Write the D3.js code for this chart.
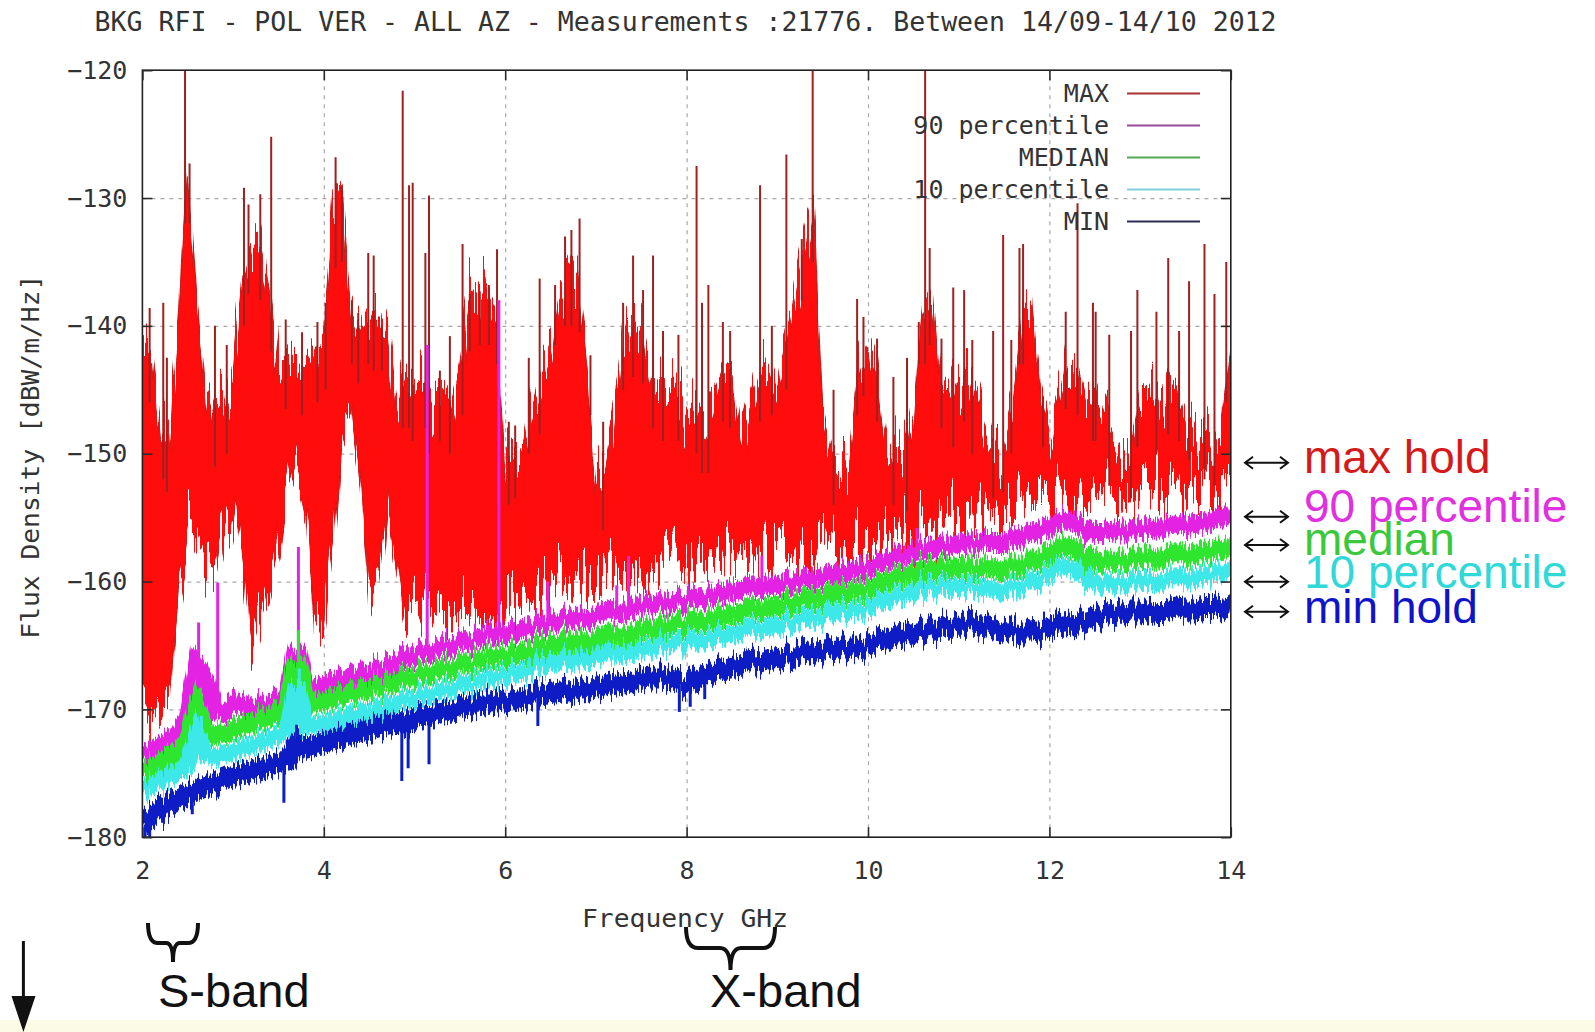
<!DOCTYPE html>
<html>
<head>
<meta charset="utf-8">
<script src="https://cdn.jsdelivr.net/npm/d3@7"></script>
<style>
body { margin: 0; background: #fff; }
svg { display: block; }
</style>
</head>
<body>
<div id="chart"></div>
<script>

// frequency grid, 0.1 GHz steps from 2 to 14 GHz
var freqs = d3.range(121).map(function(i){ return 2 + i / 10; });

var xTicks = [2, 4, 6, 8, 10, 12, 14];
var yTicks = [-180, -170, -160, -150, -140, -130, -120];

// max hold: upper edge of the dense red field, and its lower edge
var maxTop = [
 -141.5,-142.0,-148.0,-149.0,-140.0,-128.0,-138.0,-145.0,-147.0,-146.0,
 -143.5,-136.0,-133.5,-134.0,-138.0,-143.0,-142.5,-143.0,-143.0,-142.0,
 -141.0,-131.5,-131.0,-139.0,-140.5,-139.0,-139.5,-140.5,-146.0,-144.0,
 -145.0,-144.0,-146.0,-145.0,-146.0,-143.0,-138.0,-137.5,-137.5,-139.0,
 -150.0,-149.5,-149.0,-146.0,-144.5,-142.0,-137.5,-136.0,-136.5,-143.0,
 -151.0,-152.0,-148.0,-141.0,-140.0,-140.5,-144.0,-145.0,-146.0,-145.0,
 -147.0,-146.0,-147.5,-146.0,-143.5,-144.0,-148.5,-146.0,-143.5,-143.0,
 -145.0,-141.0,-137.5,-134.0,-131.0,-147.0,-150.0,-150.5,-150.0,-143.0,
 -141.5,-143.5,-149.5,-150.0,-150.5,-147.0,-139.0,-137.5,-144.0,-145.5,
 -144.0,-143.5,-146.0,-148.5,-149.5,-149.0,-146.0,-139.0,-138.0,-145.5,
 -148.5,-146.0,-142.5,-143.0,-146.0,-145.0,-147.0,-148.5,-150.0,-149.5,
 -145.5,-145.0,-146.0,-144.5,-145.0,-146.5,-147.5,-148.0,-148.5,-147.5,
 -142.0];
var maxBottom = [
 -169.0,-170.5,-170.0,-169.0,-160.0,-156.0,-157.0,-158.5,-159.5,-156.0,
 -154.0,-158.0,-165.0,-163.0,-160.5,-157.0,-153.3,-151.5,-155.0,-164.0,
 -163.3,-157.0,-148.0,-146.5,-152.0,-161.5,-160.0,-153.5,-158.0,-163.0,
 -162.5,-161.0,-162.0,-162.0,-162.3,-162.3,-162.5,-162.8,-163.0,-163.0,
 -162.0,-161.5,-161.2,-161.0,-161.0,-160.8,-160.5,-160.3,-160.2,-160.0,
 -160.0,-159.8,-159.6,-159.4,-159.2,-159.0,-159.0,-158.8,-158.8,-158.8,
 -158.7,-158.7,-158.6,-158.5,-158.4,-158.3,-158.2,-158.0,-158.0,-157.9,
 -157.8,-157.7,-157.6,-157.5,-157.4,-157.5,-157.4,-157.3,-157.2,-157.1,
 -157.0,-156.9,-156.8,-156.7,-156.6,-156.4,-156.2,-156.0,-155.7,-155.4,
 -155.2,-155.0,-154.8,-154.6,-154.5,-154.4,-154.3,-154.2,-154.0,-153.9,
 -153.8,-153.7,-153.6,-153.5,-153.4,-153.3,-153.2,-153.1,-153.0,-152.9,
 -152.8,-152.7,-152.6,-152.5,-152.4,-152.3,-152.2,-152.1,-152.0,-151.9,
 -151.6];
// tall narrow max hold lines [GHz, dBW/m/Hz]
var maxSpikes = [
 [2.08,-138.6],[2.23,-138.2],[2.27,-142.5],[2.47,-120],[2.52,-127.3],[2.80,-140.0],[2.93,-141.5],
 [3.12,-129.2],[3.17,-130.5],[3.30,-129.7],[3.42,-125.2],[3.58,-139.5],[3.76,-140.5],[3.93,-139.7],
 [4.02,-138.2],[4.13,-126.8],[4.20,-129.0],[4.31,-138.0],[4.38,-139.0],[4.49,-134.3],[4.55,-134.5],
 [4.64,-140.0],[4.87,-121.6],[4.94,-129.0],[4.98,-128.8],[5.12,-134.3],[5.16,-129.8],[5.28,-143.5],
 [5.39,-140.8],[5.53,-133.6],[5.61,-137.5],[5.72,-137.3],[5.82,-136.8],[5.91,-134.0],[6.04,-147.5],
 [6.11,-147.8],[6.26,-142.5],[6.38,-136.3],[6.55,-136.8],[6.66,-133.0],[6.73,-132.5],[6.82,-131.6],
 [6.94,-142.3],[7.08,-147.5],[7.30,-138.2],[7.41,-134.5],[7.52,-137.2],[7.63,-134.5],[7.74,-140.4],
 [7.91,-140.7],[8.11,-127.5],[8.17,-138.2],[8.24,-136.8],[8.40,-139.7],[8.48,-140.4],[8.81,-129.0],
 [8.94,-140.0],[9.10,-126.6],[9.27,-133.2],[9.39,-120],[9.62,-145.0],[9.88,-137.9],[9.95,-139.3],
 [10.10,-141.0],[10.28,-144.0],[10.43,-142.5],[10.56,-139.7],[10.63,-120],[10.68,-133.9],[10.81,-141.0],
 [10.94,-137.0],[11.06,-137.2],[11.15,-141.1],[11.38,-140.4],[11.49,-132.9],[11.58,-141.1],[11.67,-133.9],
 [11.71,-133.6],[11.93,-145.5],[12.18,-138.9],[12.31,-130.4],[12.48,-138.2],[12.51,-138.9],[12.66,-140.7],
 [12.90,-140.4],[12.97,-137.2],[13.18,-138.9],[13.31,-134.7],[13.43,-140.4],[13.54,-136.5],[13.71,-133.6],
 [13.82,-137.5],[13.95,-135.0]];

var p90 = [
 -173.6,-173.2,-172.8,-172.4,-171.8,-170.8,-166.5,-167.5,-170.0,-170.2,
 -169.5,-169.6,-170.0,-169.8,-169.6,-169.2,-168.6,-165.0,-168.6,-168.5,
 -168.1,-167.9,-167.7,-167.5,-167.3,-167.1,-166.9,-166.6,-166.3,-166.0,
 -165.7,-165.5,-165.3,-165.1,-164.9,-164.8,-164.6,-164.5,-164.3,-164.2,
 -164.0,-163.9,-163.7,-163.6,-163.5,-163.3,-163.2,-163.0,-162.9,-162.8,
 -162.6,-162.5,-162.3,-162.2,-162.0,-161.9,-161.8,-161.7,-161.6,-161.5,
 -161.4,-161.2,-161.1,-161.0,-160.9,-160.7,-160.6,-160.5,-160.4,-160.3,
 -160.2,-160.1,-160.0,-159.9,-159.8,-159.6,-159.5,-159.3,-159.1,-158.9,
 -158.8,-158.6,-158.4,-158.2,-158.0,-157.8,-157.6,-157.4,-157.2,-157.1,
 -157.0,-157.0,-157.0,-156.9,-156.9,-156.9,-156.6,-156.4,-156.2,-156.0,
 -155.8,-155.4,-155.2,-155.5,-155.9,-156.2,-156.2,-156.1,-156.0,-156.0,
 -155.9,-155.8,-155.8,-155.7,-155.6,-155.6,-155.5,-155.4,-155.2,-155.0,
 -154.7];
var p90Spikes = [[2.62,-163.2],[2.83,-160.1],[3.72,-157.3],[5.14,-141.5],[5.93,-138.0],
 [6.47,-160.0],[7.23,-160.3],[7.36,-158.0],[8.83,-158.0],[10.54,-155.8]];

var median = [
 -175.0,-174.6,-174.2,-173.7,-173.2,-172.6,-170.0,-171.6,-172.0,-171.9,
 -171.6,-171.3,-171.1,-170.9,-170.6,-170.2,-169.6,-166.0,-169.5,-169.5,
 -169.4,-169.2,-169.0,-168.8,-168.6,-168.4,-168.2,-168.0,-167.8,-167.6,
 -167.4,-167.2,-167.0,-166.8,-166.7,-166.5,-166.4,-166.2,-166.1,-165.9,
 -165.8,-165.6,-165.5,-165.4,-165.2,-165.1,-165.0,-164.8,-164.7,-164.6,
 -164.5,-164.3,-164.2,-164.1,-164.0,-163.8,-163.7,-163.6,-163.4,-163.3,
 -163.2,-163.0,-162.9,-162.8,-162.6,-162.5,-162.4,-162.2,-162.1,-162.0,
 -161.8,-161.7,-161.6,-161.5,-161.3,-161.2,-161.0,-160.8,-160.7,-160.5,
 -160.4,-160.2,-160.0,-159.8,-159.6,-159.4,-159.2,-159.0,-158.9,-158.8,
 -158.8,-158.9,-159.0,-159.0,-159.0,-158.9,-158.8,-158.6,-158.4,-158.2,
 -157.9,-157.5,-157.3,-157.5,-158.0,-158.4,-158.6,-158.5,-158.4,-158.3,
 -158.2,-158.1,-158.1,-158.0,-157.9,-157.9,-157.8,-157.7,-157.6,-157.5,
 -157.4];
var medianSpikes = [[2.64,-168.3],[3.72,-163.8]];

var p10 = [
 -176.4,-176.0,-175.6,-175.2,-174.8,-174.3,-172.0,-173.5,-173.7,-173.5,
 -173.3,-173.0,-172.8,-172.6,-172.3,-172.0,-171.5,-168.0,-171.3,-171.2,
 -171.1,-170.9,-170.7,-170.5,-170.3,-170.1,-169.9,-169.7,-169.5,-169.3,
 -169.1,-168.9,-168.7,-168.5,-168.3,-168.1,-168.0,-167.8,-167.6,-167.5,
 -167.3,-167.1,-167.0,-166.8,-166.7,-166.5,-166.4,-166.2,-166.1,-166.0,
 -165.9,-165.7,-165.6,-165.5,-165.4,-165.3,-165.2,-165.0,-164.9,-164.8,
 -164.7,-164.5,-164.4,-164.3,-164.1,-164.0,-163.9,-163.7,-163.6,-163.5,
 -163.3,-163.2,-163.1,-163.0,-162.8,-162.7,-162.5,-162.3,-162.2,-162.0,
 -161.9,-161.7,-161.5,-161.3,-161.1,-160.9,-160.7,-160.5,-160.4,-160.3,
 -160.3,-160.4,-160.5,-160.6,-160.6,-160.5,-160.4,-160.2,-160.0,-159.8,
 -159.5,-159.1,-158.9,-159.1,-159.6,-160.1,-160.3,-160.3,-160.2,-160.1,
 -160.0,-160.0,-159.9,-159.8,-159.8,-159.7,-159.6,-159.5,-159.4,-159.3,
 -159.2];
var p10Spikes = [[2.65,-170.5],[3.73,-166.8]];

var minHold = [
 -179.0,-178.5,-177.9,-177.4,-177.0,-176.6,-176.3,-176.0,-175.8,-175.5,
 -175.2,-175.0,-174.8,-174.6,-174.4,-174.2,-174.0,-172.8,-173.0,-172.8,
 -172.6,-172.4,-172.2,-172.0,-171.8,-171.6,-171.4,-171.2,-171.0,-171.2,
 -170.7,-170.5,-170.4,-170.2,-170.1,-169.9,-169.8,-169.6,-169.5,-169.4,
 -169.3,-169.2,-169.1,-169.0,-168.9,-168.8,-168.7,-168.6,-168.5,-168.4,
 -168.3,-168.2,-168.0,-167.9,-167.8,-167.6,-167.5,-167.5,-167.6,-167.9,
 -168.0,-167.6,-167.2,-167.0,-166.8,-166.6,-166.5,-166.3,-166.2,-166.0,
 -165.9,-165.8,-165.7,-165.6,-165.5,-165.4,-165.3,-165.2,-165.1,-165.0,
 -164.9,-164.7,-164.6,-164.4,-164.3,-164.1,-164.0,-163.8,-163.6,-163.4,
 -163.3,-163.3,-163.4,-163.5,-163.6,-163.7,-163.8,-163.9,-163.9,-163.8,
 -163.7,-163.5,-163.4,-163.3,-163.0,-162.8,-162.7,-162.6,-162.6,-162.5,
 -162.5,-162.4,-162.3,-162.3,-162.2,-162.1,-162.1,-162.0,-162.0,-162.1,
 -162.2];
var minSpikes = [[2.03,-180],[2.08,-180],[2.55,-178.2],[3.56,-177.3],[3.70,-171.2],[4.86,-175.6],
 [4.93,-174.6],[5.16,-174.3],[6.36,-171.3],[7.92,-170.2],[8.04,-169.8],[8.20,-169.2]];

var legendLabels = ["MAX", "90 percentile", "MEDIAN", "10 percentile", "MIN"];
var noteLabels = ["max hold", "90 percentile", "median", "10 percentile", "min hold"];


var width = 1595, height = 1032;
var pL = 142.4, pR = 1230.8, pT = 70.2, pB = 837.2;
var mono = "'DejaVu Sans Mono', monospace";
var sans = "'Liberation Sans', Arial, sans-serif";

var x = d3.scaleLinear().domain([2, 14]).range([pL, pR]);
var y = d3.scaleLinear().domain([-180, -120]).range([pB, pT]);

var svg = d3.select("#chart")
	.append("svg")
	.attr("width", width)
	.attr("height", height);

var defs = svg.append("defs");
defs.append("clipPath").attr("id", "plotclip")
	.append("rect")
	.attr("x", pL).attr("y", pT)
	.attr("width", pR - pL).attr("height", pB - pT);

// vertical jitter so the thick traces get the ragged edges of a dense sweep
function jagFilter(id, scale, seed, freq) {
	var f = defs.append("filter").attr("id", id)
		.attr("filterUnits", "userSpaceOnUse")
		.attr("x", pL - 20).attr("y", pT - 60)
		.attr("width", pR - pL + 40).attr("height", pB - pT + 120);
	f.append("feTurbulence").attr("type", "fractalNoise")
		.attr("baseFrequency", freq).attr("numOctaves", 2)
		.attr("seed", seed).attr("result", "noise");
	var ct = f.append("feComponentTransfer").attr("in", "noise").attr("result", "map");
	ct.append("feFuncR").attr("type", "table").attr("tableValues", "0.5 0.5");
	ct.append("feFuncA").attr("type", "table").attr("tableValues", "1 1");
	f.append("feDisplacementMap").attr("in", "SourceGraphic").attr("in2", "map")
		.attr("scale", scale).attr("xChannelSelector", "R").attr("yChannelSelector", "G");
}
jagFilter("jagMax", 140, 4, "0.35 0.003");
jagFilter("jagBand", 30, 9, "0.45 0.004");

svg.append("rect").attr("x", 0).attr("y", 1020)
	.attr("width", width).attr("height", 12).attr("fill", "#fcfce6");

// grid
var gridX = svg.append("g")
	.attr("transform", "translate(0," + pB + ")")
	.call(d3.axisBottom(x).tickValues(xTicks.slice(1, -1)).tickSize(-(pB - pT)).tickFormat(""));
var gridY = svg.append("g")
	.attr("transform", "translate(" + pL + ",0)")
	.call(d3.axisLeft(y).tickValues(yTicks.slice(1, -1)).tickSize(-(pR - pL)).tickFormat(""));
[gridX, gridY].forEach(function(g) {
	g.select(".domain").remove();
	g.selectAll("line").attr("stroke", "#a8a8a8").attr("stroke-width", 1.2).attr("stroke-dasharray", "4,5");
});

var plot = svg.append("g").attr("clip-path", "url(#plotclip)");

var idx = function(f) { return Math.round((f - 2) * 10); };

// MAX
var area = d3.area()
	.x(function(d, i) { return x(freqs[i]); })
	.y0(function(d, i) { return y(maxBottom[i]); })
	.y1(function(d, i) { return y(maxTop[i]); });

plot.append("g").attr("filter", "url(#jagMax)")
	.append("path")
	.datum(maxTop)
	.attr("d", area)
	.attr("fill", "#ff0a0a")
	.attr("stroke", "#c81414")
	.attr("stroke-width", 1);

plot.selectAll(".maxspike")
	.data(maxSpikes)
	.enter().append("line")
	.attr("class", "maxspike")
	.attr("x1", function(d) { return x(d[0]); })
	.attr("x2", function(d) { return x(d[0]); })
	.attr("y1", function(d) { return y(maxTop[idx(d[0])] - 4); })
	.attr("y2", function(d) { return y(d[1]); })
	.attr("stroke", "#9e2020")
	.attr("stroke-width", 2);

var line = d3.line()
	.x(function(d, i) { return x(freqs[i]); })
	.y(function(d) { return y(d); });

var bands = [
	{ values: p90, spikes: p90Spikes, color: "#e424e4", w: 18 },
	{ values: median, spikes: medianSpikes, color: "#2ee62e", w: 19 },
	{ values: p10, spikes: p10Spikes, color: "#3ce8e8", w: 17 },
	{ values: minHold, spikes: minSpikes, color: "#0c1ec4", w: 20 }
];

bands.forEach(function(b) {
	plot.append("g").attr("filter", "url(#jagBand)")
		.append("path")
		.datum(b.values)
		.attr("d", line)
		.attr("fill", "none")
		.attr("stroke", b.color)
		.attr("stroke-width", b.w);
	plot.selectAll(null)
		.data(b.spikes)
		.enter().append("line")
		.attr("x1", function(d) { return x(d[0]); })
		.attr("x2", function(d) { return x(d[0]); })
		.attr("y1", function(d) { return y(b.values[idx(d[0])]); })
		.attr("y2", function(d) { return y(d[1]); })
		.attr("stroke", b.color)
		.attr("stroke-width", 3);
});

// border and inward ticks on all four sides
svg.append("rect")
	.attr("x", pL).attr("y", pT)
	.attr("width", pR - pL).attr("height", pB - pT)
	.attr("fill", "none").attr("stroke", "#222").attr("stroke-width", 1.6);

var xAxis = svg.append("g")
	.attr("transform", "translate(0," + pB + ")")
	.call(d3.axisBottom(x).tickValues(xTicks).tickSizeInner(-10).tickSizeOuter(0).tickPadding(24));
var yAxis = svg.append("g")
	.attr("transform", "translate(" + pL + ",0)")
	.call(d3.axisLeft(y).tickValues(yTicks).tickSizeInner(-10).tickSizeOuter(0).tickPadding(15));
var xTop = svg.append("g")
	.attr("transform", "translate(0," + pT + ")")
	.call(d3.axisTop(x).tickValues(xTicks).tickSizeInner(-10).tickSizeOuter(0).tickFormat(""));
var yRight = svg.append("g")
	.attr("transform", "translate(" + pR + ",0)")
	.call(d3.axisRight(y).tickValues(yTicks).tickSizeInner(-10).tickSizeOuter(0).tickFormat(""));

[xAxis, yAxis, xTop, yRight].forEach(function(g) {
	g.select(".domain").remove();
	g.attr("font-family", mono).attr("font-size", 25).attr("color", "#2a2a2a");
	g.selectAll("line").attr("stroke-width", 1.6);
	g.selectAll("text").attr("fill", "#333");
});

// titles
svg.append("text")
	.attr("x", 94.6).attr("y", 30.5)
	.attr("textLength", 1182).attr("lengthAdjust", "spacingAndGlyphs")
	.attr("font-family", mono).attr("font-size", 26).attr("fill", "#333")
	.text("BKG RFI - POL VER - ALL AZ - Measurements :21776. Between 14/09-14/10 2012");

svg.append("text")
	.attr("x", 685).attr("y", 927)
	.attr("text-anchor", "middle")
	.attr("textLength", 206).attr("lengthAdjust", "spacingAndGlyphs")
	.attr("font-family", mono).attr("font-size", 25).attr("fill", "#333")
	.text("Frequency GHz");

svg.append("text")
	.attr("transform", "translate(39,456.7) rotate(-90)")
	.attr("text-anchor", "middle")
	.attr("textLength", 364).attr("lengthAdjust", "spacingAndGlyphs")
	.attr("font-family", mono).attr("font-size", 25).attr("fill", "#333")
	.text("Flux Density [dBW/m/Hz]");

// legend
var legendColors = ["#a83434", "#9a4c9a", "#52a852", "#80d0dc", "#2c2c52"];
var legend = svg.append("g");
legendLabels.forEach(function(lab, i) {
	var ly = 93.6 + i * 32;
	legend.append("text")
		.attr("x", 1109).attr("y", ly)
		.attr("text-anchor", "end").attr("dy", "0.35em")
		.attr("font-family", mono).attr("font-size", 25).attr("fill", "#333")
		.text(lab);
	legend.append("line")
		.attr("x1", 1127).attr("x2", 1200)
		.attr("y1", ly).attr("y2", ly)
		.attr("stroke", legendColors[i]).attr("stroke-width", 2);
});

// right-hand notes
var noteColors = ["#d41a1a", "#e030e0", "#3cc83c", "#30d8d8", "#1014c8"];
var noteBase = [473, 521.7, 555, 588.3, 623.3];
var noteArrow = [462.7, 516.7, 545, 581.7, 611.7];
noteLabels.forEach(function(lab, i) {
	var ay = noteArrow[i];
	svg.append("path")
		.attr("d", "M1245," + ay + "H1288M1253," + (ay - 6) + "L1245," + ay + "L1253," + (ay + 6)
			+ "M1280," + (ay - 6) + "L1288," + ay + "L1280," + (ay + 6))
		.attr("fill", "none").attr("stroke", "#111").attr("stroke-width", 2);
	svg.append("text")
		.attr("x", 1304).attr("y", noteBase[i])
		.attr("font-family", sans).attr("font-size", 46)
		.attr("fill", noteColors[i])
		.text(lab);
});

// band braces and labels under the axis
svg.append("path")
	.attr("d", "M148,923 Q148,943 158,943 L166,943 Q173,943 173,962 Q173,943 180,943 L188,943 Q198,943 198,923")
	.attr("fill", "none").attr("stroke", "#111").attr("stroke-width", 4);
svg.append("path")
	.attr("d", "M686,927 Q686,948 698,948 L720,948 Q730.5,948 730.5,970 Q730.5,948 741,948 L763,948 Q775,948 775,927")
	.attr("fill", "none").attr("stroke", "#111").attr("stroke-width", 4);

svg.append("text").attr("x", 158).attr("y", 1007)
	.attr("font-family", sans).attr("font-size", 47).attr("fill", "#111").text("S-band");
svg.append("text").attr("x", 710).attr("y", 1007)
	.attr("font-family", sans).attr("font-size", 47).attr("fill", "#111").text("X-band");

svg.append("line").attr("x1", 23.4).attr("x2", 23.4).attr("y1", 941).attr("y2", 1000)
	.attr("stroke", "#111").attr("stroke-width", 3);
svg.append("path").attr("d", "M11.5,996 L35.5,996 L23.4,1032 Z").attr("fill", "#111");

</script>
</body>
</html>
